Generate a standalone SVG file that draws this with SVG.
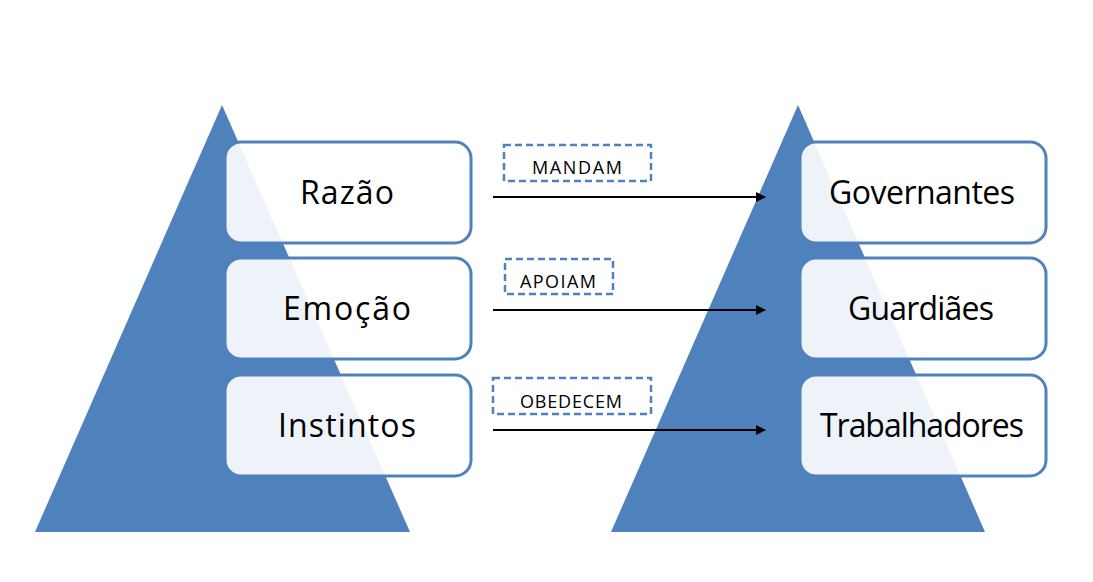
<svg xmlns="http://www.w3.org/2000/svg" width="1093" height="582" viewBox="0 0 1093 582">
<style>
.tri{fill:#4f81bd}
.box{fill:#ffffff;fill-opacity:0.9;stroke:#4f81bd;stroke-width:3}
.t{font-family:"Open Sans","Noto Sans","DejaVu Sans",sans-serif;font-size:32px;fill:#000;text-anchor:middle}
.lb{fill:#fff;stroke:#4f81bd;stroke-width:2.5;stroke-dasharray:7,4}
.lt{font-family:"Open Sans","Noto Sans","DejaVu Sans",sans-serif;font-size:18px;fill:#000;text-anchor:middle}
.c{stroke:#000;stroke-width:2;fill:none;marker-end:url(#ah)}
</style>
<defs>
<marker id="ah" markerWidth="10" markerHeight="10" refX="9" refY="5" orient="auto" markerUnits="userSpaceOnUse">
<path d="M0,0 L10,5 L0,10 z" fill="#000"/>
</marker>
</defs>
<rect width="1093" height="582" fill="#fff"/>
<polygon class="tri" points="222,105 410,532 35,532"/>
<polygon class="tri" points="798,105 985,532 611,532"/>
<g id="connectors">
<line class="c" x1="493" y1="197" x2="765" y2="197"/>
<line class="c" x1="493" y1="310" x2="765" y2="310"/>
<line class="c" x1="493" y1="430" x2="765" y2="430"/>
</g>
<g id="razao"><rect class="box" x="225" y="142" width="246" height="101" rx="16"/><text class="t" x="347" y="204" textLength="94">Razão</text></g>
<g id="emocao"><rect class="box" x="225" y="258" width="246" height="101" rx="16"/><text class="t" x="347" y="320" textLength="128">Emoção</text></g>
<g id="instintos"><rect class="box" x="225" y="375" width="246" height="101" rx="16"/><text class="t" x="347" y="437" textLength="138">Instintos</text></g>
<g id="governantes"><rect class="box" x="800" y="142" width="246" height="101" rx="16"/><text class="t" x="922" y="204" textLength="186">Governantes</text></g>
<g id="guardiaes"><rect class="box" x="800" y="258" width="246" height="101" rx="16"/><text class="t" x="921" y="320" textLength="146">Guardiães</text></g>
<g id="trabalhadores"><rect class="box" x="800" y="375" width="246" height="101" rx="16"/><text class="t" x="922" y="437" textLength="204">Trabalhadores</text></g>
<g id="mandam"><rect class="lb" x="504" y="145" width="147" height="36"/><text class="lt" x="577" y="174" textLength="90">MANDAM</text></g>
<g id="apoiam"><rect class="lb" x="505" y="259" width="108" height="35"/><text class="lt" x="558" y="288" textLength="76">APOIAM</text></g>
<g id="obedecem"><rect class="lb" x="493" y="378" width="158" height="36"/><text class="lt" x="571" y="408" textLength="102">OBEDECEM</text></g>
</svg>
